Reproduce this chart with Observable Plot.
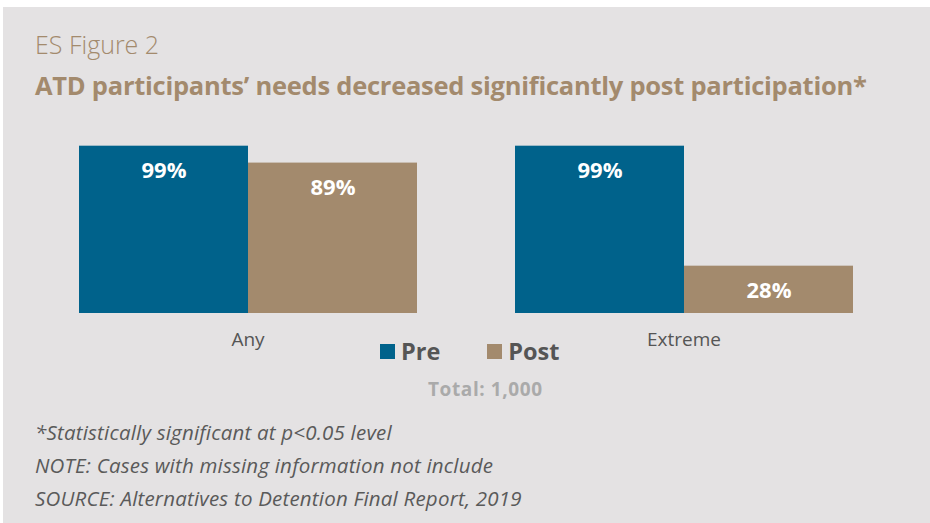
<!DOCTYPE html>
<html>
<head>
<meta charset="utf-8">
<script src="https://cdn.jsdelivr.net/npm/d3@7"></script>
<script src="https://cdn.jsdelivr.net/npm/@observablehq/plot@0.6"></script>
<style>
  html, body { margin: 0; padding: 0; background: #ffffff; }
  body { position: relative; width: 930px; height: 523px; overflow: hidden; font-family: "Open Sans", sans-serif; }
  #panel { position: absolute; left: 3px; top: 7px; width: 927px; height: 516px; background: #e4e2e3; }
  .abs { position: absolute; white-space: nowrap; }
  #fig { left: 35px; top: 27px; font-size: 25px; font-weight: 300; color: #a38a6d; }
  #title { left: 35px; top: 68px; font-size: 25.5px; font-weight: 700; color: #a38a6d; letter-spacing: -0.25px; }
  #chart { left: 0; top: 120px; }
  #legend { left: 380px; top: 335px; display: flex; align-items: center; font-size: 23.5px; font-weight: 700; color: #555; }
  .sw { display: inline-block; width: 15px; height: 15px; margin-right: 6px; }
  .item { display: flex; align-items: center; margin-right: 47px; }
  #total { left: 428px; top: 376px; font-size: 19px; font-weight: 700; color: #aaaaaa; letter-spacing: 0.6px; }
  .note { left: 35px; font-size: 20.5px; font-style: italic; font-weight: 400; color: #5a5a5a; letter-spacing: 0.2px; }
</style>
</head>
<body>
<div id="panel"></div>
<div id="fig" class="abs">ES Figure 2</div>
<div id="title" class="abs">ATD participants’ needs decreased significantly post participation*</div>
<div id="chart" class="abs"></div>
<div id="legend" class="abs"></div>
<div id="total" class="abs">Total: 1,000</div>
<div class="abs note" style="top:418px">*Statistically significant at p&lt;0.05 level</div>
<div class="abs note" style="top:451px">NOTE: Cases with missing information not include</div>
<div class="abs note" style="top:484px">SOURCE: Alternatives to Detention Final Report, 2019</div>
<script>
const categories = ["Any", "Extreme"];
const series = ["Pre", "Post"];
const preValues = [99, 99];
const postValues = [89, 28];
const seriesColors = ["#00628b", "#a38a6d"];

const rows = categories.flatMap((c, i) => [
  {category: c, series: "Pre", value: preValues[i]},
  {category: c, series: "Post", value: postValues[i]}
]);

const chart = Plot.plot({
  width: 930,
  height: 240,
  marginLeft: 78,
  marginRight: 77,
  marginTop: 24,
  marginBottom: 47,
  style: {background: "transparent", fontFamily: "Open Sans, sans-serif", overflow: "visible"},
  fx: {domain: categories, paddingInner: 0.2225, paddingOuter: 0, axis: null, label: null},
  x: {domain: series, padding: 0, axis: null},
  y: {domain: [0, 100], axis: null},
  color: {domain: series, range: seriesColors},
  marks: [
    Plot.barY(rows, {fx: "category", x: "series", y: "value", fill: "series"}),
    Plot.text(rows, {fx: "category", x: "series", y: "value", text: d => d.value + "%", fill: "white", fontWeight: "bold", fontSize: 22, dy: 25}),
    Plot.text(categories, {fx: d => d, frameAnchor: "bottom", dy: 32, text: d => d, fontSize: 19, fill: "#555"})
  ]
});
document.getElementById("chart").appendChild(chart);

const legend = document.getElementById("legend");
series.forEach((s, i) => {
  const item = document.createElement("div");
  item.className = "item";
  const sw = document.createElement("span");
  sw.className = "sw";
  sw.style.background = seriesColors[i];
  item.appendChild(sw);
  item.appendChild(document.createTextNode(s));
  legend.appendChild(item);
});
</script>
</body>
</html>
